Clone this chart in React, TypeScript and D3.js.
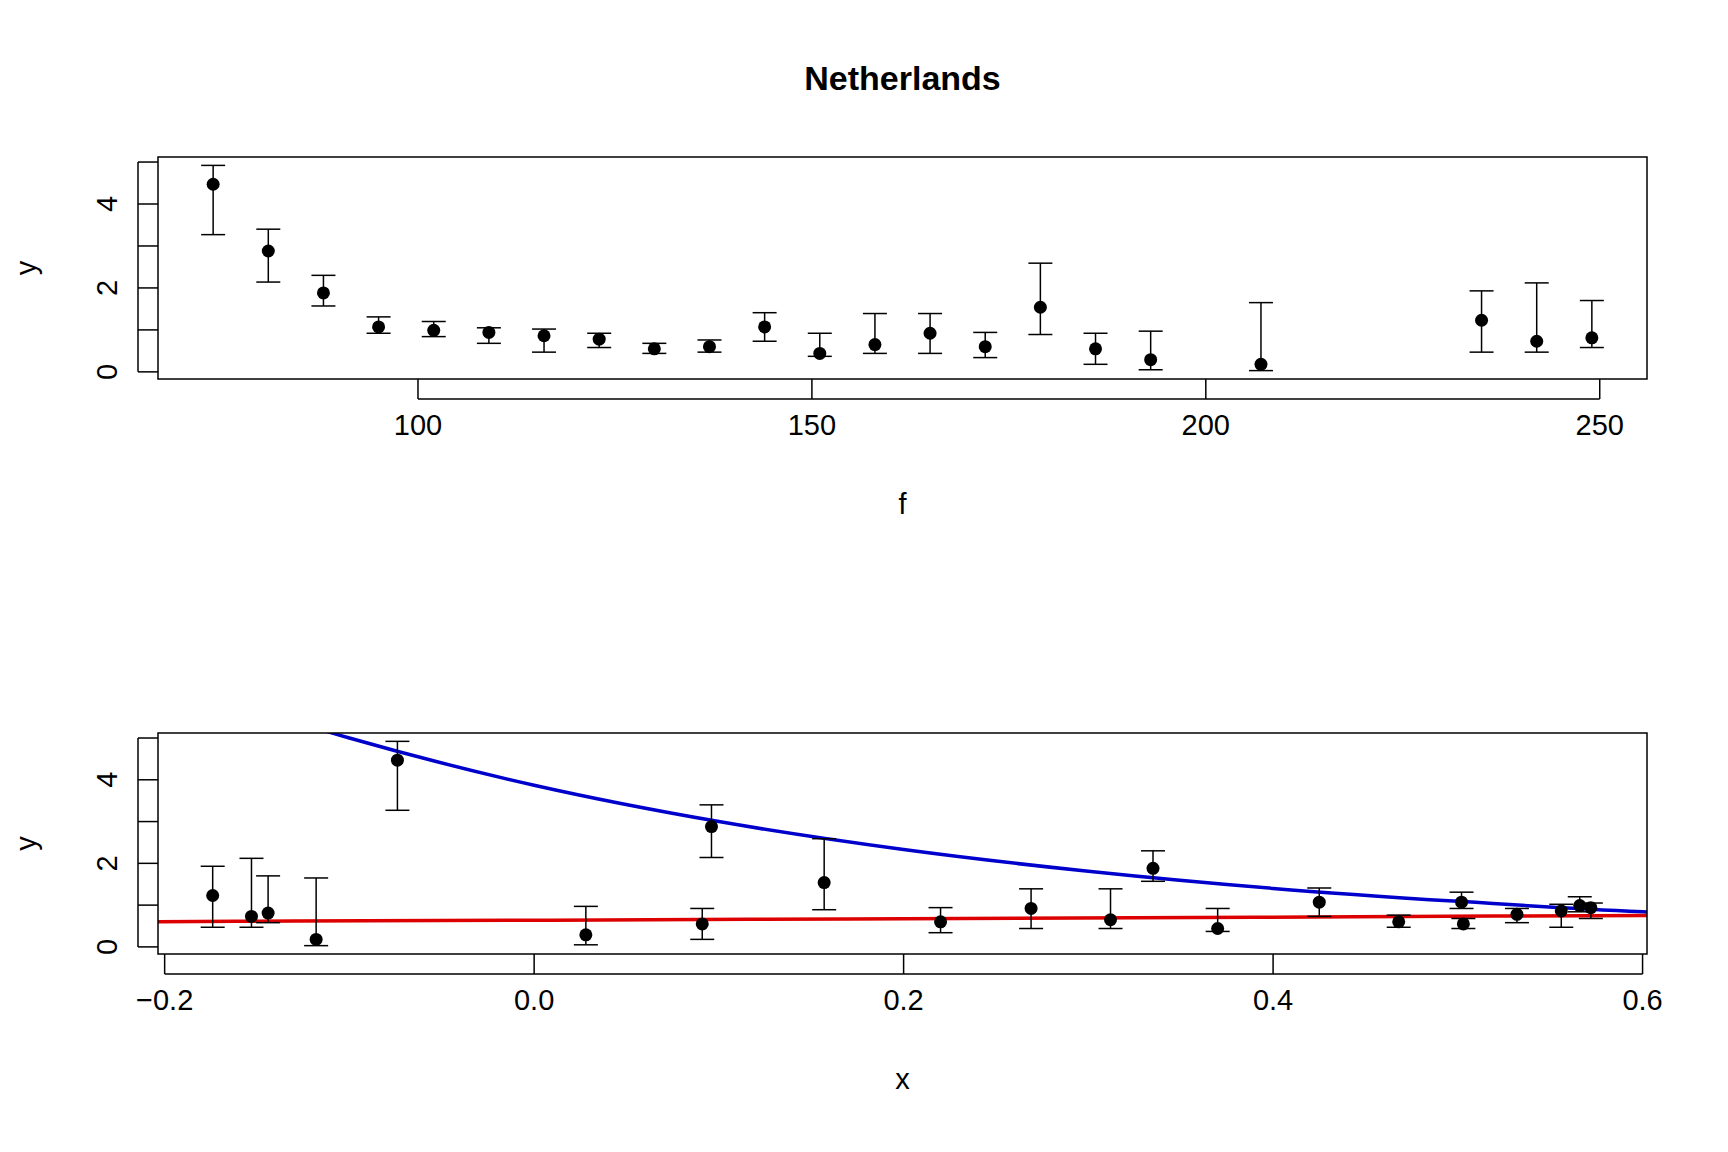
import * as d3 from "d3";
import React from "react";

// data
const fVals = [74, 81, 88, 95, 102, 109, 116, 123, 130, 137, 144, 151, 158, 165, 172, 179, 186, 193, 207, 235, 242, 249];
const xVals = [-0.074, 0.096, 0.335, 0.502, 0.566, 0.572, 0.556, 0.532, 0.503, 0.468, 0.425, 0.37, 0.312, 0.269, 0.22, 0.157, 0.091, 0.028, -0.118, -0.174, -0.153, -0.144];
const yVals = [4.47, 2.88, 1.88, 1.07, 0.99, 0.94, 0.86, 0.78, 0.55, 0.6, 1.07, 0.44, 0.65, 0.92, 0.6, 1.54, 0.55, 0.29, 0.18, 1.23, 0.73, 0.81];
const yLo = [3.27, 2.14, 1.57, 0.92, 0.84, 0.68, 0.47, 0.58, 0.44, 0.47, 0.73, 0.37, 0.44, 0.44, 0.34, 0.89, 0.18, 0.05, 0.03, 0.47, 0.47, 0.58];
const yHi = [4.92, 3.4, 2.3, 1.31, 1.2, 1.05, 1.02, 0.92, 0.68, 0.76, 1.41, 0.92, 1.39, 1.39, 0.94, 2.59, 0.92, 0.97, 1.65, 1.93, 2.12, 1.7];

const blueX = [-0.2, -0.1, 0, 0.1, 0.2, 0.3, 0.4, 0.5, 0.6, 0.61];
const blueY = [6.4, 5.0, 3.87, 3.0, 2.33, 1.81, 1.4, 1.09, 0.84, 0.82];
const redX = [-0.21, -0.13, 0.01, 0.17, 0.39, 0.52, 0.61];
const redY = [0.6, 0.62, 0.64, 0.67, 0.71, 0.74, 0.75];

const fTicks = [100, 150, 200, 250];
const xTicks = [-0.2, 0, 0.2, 0.4, 0.6];
const yTicks = [0, 1, 2, 3, 4, 5];

const font = "'Liberation Sans', Arial, sans-serif";
const L = 158, R = 1647;

const Panel: React.FC<{ top: number; bottom: number; xs: number[]; domain: [number, number]; ticks: number[]; fmt: (v: number) => string; xlab: string; children?: (x: any, y: any) => React.ReactNode }> = ({ top, bottom, xs, domain, ticks, fmt, xlab, children }) => {
  const x = d3.scaleLinear().domain(domain).range([L, R]);
  const y = d3.scaleLinear().domain([-0.17, 5.12]).range([bottom, top]);
  const clipId = "clip" + top;
  return (
    <g>
      <defs>
        <clipPath id={clipId}><rect x={L} y={top} width={R - L} height={bottom - top} /></clipPath>
      </defs>
      <g clipPath={`url(#${clipId})`}>{children && children(x, y)}</g>
      {xs.map((v, i) => (
        <g key={i} stroke="black" strokeWidth={1.5}>
          <line x1={x(v)} x2={x(v)} y1={y(yLo[i])} y2={y(yHi[i])} />
          <line x1={x(v) - 12} x2={x(v) + 12} y1={y(yLo[i])} y2={y(yLo[i])} />
          <line x1={x(v) - 12} x2={x(v) + 12} y1={y(yHi[i])} y2={y(yHi[i])} />
          <circle cx={x(v)} cy={y(yVals[i])} r={6.5} fill="black" stroke="none" />
        </g>
      ))}
      <rect x={L} y={top} width={R - L} height={bottom - top} fill="none" stroke="black" strokeWidth={1.5} />
      {ticks.map(t => (
        <g key={t}>
          <line x1={x(t)} x2={x(t)} y1={bottom} y2={bottom + 20} stroke="black" strokeWidth={1.5} />
          <text x={x(t)} y={bottom + 56} textAnchor="middle" fontSize={29} fontFamily={font}>{fmt(t)}</text>
        </g>
      ))}
      <line x1={x(ticks[0])} x2={x(ticks[ticks.length - 1])} y1={bottom + 20} y2={bottom + 20} stroke="black" strokeWidth={1.5} />
      {yTicks.map(t => (
        <g key={t}>
          <line x1={L - 20} x2={L} y1={y(t)} y2={y(t)} stroke="black" strokeWidth={1.5} />
          {t % 2 === 0 && (
            <text transform={`translate(${L - 41},${y(t)}) rotate(-90)`} textAnchor="middle" fontSize={29} fontFamily={font}>{t}</text>
          )}
        </g>
      ))}
      <line x1={L - 20} x2={L - 20} y1={y(0)} y2={y(5)} stroke="black" strokeWidth={1.5} />
      <text x={(L + R) / 2} y={bottom + 135} textAnchor="middle" fontSize={29} fontFamily={font}>{xlab}</text>
      <text transform={`translate(36,${(top + bottom) / 2}) rotate(-90)`} textAnchor="middle" fontSize={29} fontFamily={font}>y</text>
    </g>
  );
};

export default function App() {
  const line = (x: any, y: any, xs: number[], ys: number[]) =>
    d3.line<number>().x((_, i) => x(xs[i])).y((d) => y(d)).curve(d3.curveMonotoneX)(ys) || "";
  return (
    <svg width={1728} height={1152} style={{ position: "absolute", left: 0, top: 0, background: "white" }}>
      <text x={(L + R) / 2} y={90} textAnchor="middle" fontSize={34} fontWeight="bold" fontFamily={font}>Netherlands</text>
      <Panel top={157} bottom={379} xs={fVals} domain={[67, 256]} ticks={fTicks} fmt={(v) => String(v)} xlab="f" />
      <Panel top={733} bottom={954} xs={xVals} domain={[-0.2036, 0.6024]} ticks={xTicks} fmt={(v) => d3.format(".1f")(v)} xlab="x">
        {(x, y) => (
          <g>
            <path d={line(x, y, blueX, blueY)} fill="none" stroke="#0000CC" strokeWidth={3.5} />
            <path d={line(x, y, redX, redY)} fill="none" stroke="#DD0000" strokeWidth={3.5} />
          </g>
        )}
      </Panel>
    </svg>
  );
}
